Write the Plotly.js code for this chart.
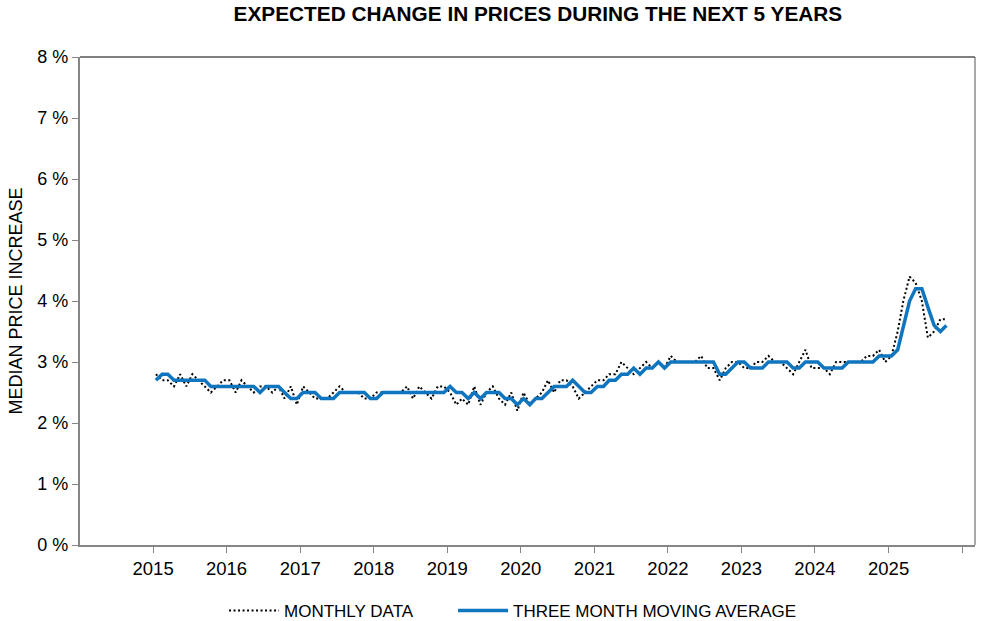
<!DOCTYPE html>
<html>
<head>
<meta charset="utf-8">
<script src="https://cdn.plot.ly/plotly-3.0.1.min.js"></script>
<style>
  html, body { margin: 0; padding: 0; background: #ffffff; }
  #chart { width: 987px; height: 621px; }
</style>
</head>
<body>
<div id="chart"></div>
<script>
// ---- data (monthly, Jan 2015 .. Oct 2025) ----
const startYear = 2015;
const monthlyData = [
  2.8, 2.7, 2.7, 2.6, 2.8, 2.6, 2.8, 2.7, 2.6, 2.5, 2.6, 2.7,   // 2015
  2.7, 2.5, 2.7, 2.6, 2.5, 2.6, 2.6, 2.5, 2.6, 2.4, 2.6, 2.3,   // 2016
  2.6, 2.5, 2.4, 2.4, 2.4, 2.5, 2.6, 2.5, 2.5, 2.5, 2.4, 2.4,   // 2017
  2.5, 2.5, 2.5, 2.5, 2.5, 2.6, 2.4, 2.6, 2.5, 2.4, 2.6, 2.6,   // 2018
  2.5, 2.3, 2.4, 2.3, 2.6, 2.3, 2.5, 2.6, 2.4, 2.3, 2.5, 2.2,   // 2019
  2.5, 2.3, 2.4, 2.5, 2.7, 2.5, 2.7, 2.7, 2.6, 2.4, 2.5, 2.6,   // 2020
  2.7, 2.7, 2.8, 2.8, 3.0, 2.9, 2.8, 2.9, 3.0, 2.9, 3.0, 2.9,   // 2021
  3.1, 3.0, 3.0, 3.0, 3.0, 3.1, 2.9, 2.9, 2.7, 2.9, 3.0, 3.0,   // 2022
  2.9, 2.9, 3.0, 3.0, 3.1, 3.0, 3.0, 2.9, 2.8, 3.0, 3.2, 2.9,   // 2023
  2.9, 2.9, 2.8, 3.0, 3.0, 3.0, 3.0, 3.0, 3.1, 3.1, 3.2, 3.0,   // 2024
  3.1, 3.5, 4.0, 4.4, 4.3, 4.0, 3.4, 3.5, 3.7, 3.7              // 2025
];
const threeMonthAverage = [
  2.7, 2.8, 2.8, 2.7, 2.7, 2.7, 2.7, 2.7, 2.7, 2.6, 2.6, 2.6,   // 2015
  2.6, 2.6, 2.6, 2.6, 2.6, 2.5, 2.6, 2.6, 2.6, 2.5, 2.4, 2.4,   // 2016
  2.5, 2.5, 2.5, 2.4, 2.4, 2.4, 2.5, 2.5, 2.5, 2.5, 2.5, 2.4,   // 2017
  2.4, 2.5, 2.5, 2.5, 2.5, 2.5, 2.5, 2.5, 2.5, 2.5, 2.5, 2.5,   // 2018
  2.6, 2.5, 2.5, 2.4, 2.5, 2.4, 2.5, 2.5, 2.5, 2.4, 2.4, 2.3,   // 2019
  2.4, 2.3, 2.4, 2.4, 2.5, 2.6, 2.6, 2.6, 2.7, 2.6, 2.5, 2.5,   // 2020
  2.6, 2.6, 2.7, 2.7, 2.8, 2.8, 2.9, 2.8, 2.9, 2.9, 3.0, 2.9,   // 2021
  3.0, 3.0, 3.0, 3.0, 3.0, 3.0, 3.0, 3.0, 2.8, 2.8, 2.9, 3.0,   // 2022
  3.0, 2.9, 2.9, 2.9, 3.0, 3.0, 3.0, 3.0, 2.9, 2.9, 3.0, 3.0,   // 2023
  3.0, 2.9, 2.9, 2.9, 2.9, 3.0, 3.0, 3.0, 3.0, 3.0, 3.1, 3.1,   // 2024
  3.1, 3.2, 3.6, 4.0, 4.2, 4.2, 3.9, 3.6, 3.5, 3.6              // 2025
];
const yearTicks = [2015, 2016, 2017, 2018, 2019, 2020, 2021, 2022, 2023, 2024, 2025, 2026];
const yearLabels = ['2015', '2016', '2017', '2018', '2019', '2020', '2021', '2022', '2023', '2024', '2025', ''];
const yTicks = [0, 1, 2, 3, 4, 5, 6, 7, 8];
const seriesNames = ['MONTHLY DATA', 'THREE MONTH MOVING AVERAGE'];
const chartTitle = 'EXPECTED CHANGE IN PRICES DURING THE NEXT 5 YEARS';
const yTitle = 'MEDIAN PRICE INCREASE';

// month dates (mid-month)
function monthDate(i) {
  const y = startYear + Math.floor(i / 12);
  const m = (i % 12) + 1;
  return y + '-' + String(m).padStart(2, '0') + '-15';
}
const xMonthly = monthlyData.map((_, i) => monthDate(i));
const xAvg = threeMonthAverage.map((_, i) => monthDate(i));

const FONT = 'Liberation Sans, Arial, sans-serif';

const traces = [
  {
    x: xMonthly, y: monthlyData, name: seriesNames[0],
    type: 'scatter', mode: 'lines', legend: 'legend',
    line: { color: '#000000', width: 2, dash: '2px,2.5px' },
    hoverinfo: 'skip'
  },
  {
    x: xAvg, y: threeMonthAverage, name: seriesNames[1],
    type: 'scatter', mode: 'lines', legend: 'legend2',
    line: { color: '#0E75BE', width: 3.5 },
    hoverinfo: 'skip'
  }
];

const legendBase = {
  orientation: 'h',
  xref: 'container', yref: 'container',
  xanchor: 'left', y: 0.016, yanchor: 'middle',
  font: { family: FONT, size: 17, color: '#000000' },
  itemwidth: 50,
  bgcolor: 'rgba(0,0,0,0)'
};

const layout = {
  width: 987, height: 621,
  margin: { l: 80, r: 12, t: 57, b: 76 },
  paper_bgcolor: '#ffffff', plot_bgcolor: '#ffffff',
  font: { family: FONT, color: '#000000' },
  title: {
    text: '<b>' + chartTitle + '</b>',
    font: { family: FONT, size: 20.8, color: '#000000' },
    xref: 'container', yref: 'container',
    x: 0.545, xanchor: 'center', y: 0.978, yanchor: 'middle'
  },
  showlegend: true,
  legend: Object.assign({}, legendBase, { x: 0.227 }),
  legend2: Object.assign({}, legendBase, { x: 0.459 }),
  xaxis: {
    type: 'date',
    range: ['2014-01-03', '2026-03-06'],
    tickmode: 'array', tickvals: yearTicks.map(y => y + '-01-01'), ticktext: yearLabels,
    ticks: 'outside', ticklen: 6, tickwidth: 1, tickcolor: '#868686',
    showline: true, linecolor: '#868686', linewidth: 2,
    showgrid: false, zeroline: false,
    tickfont: { family: FONT, size: 18.5, color: '#000000' },
    fixedrange: true
  },
  yaxis: {
    range: [0, 8],
    tickmode: 'array', tickvals: yTicks, ticktext: yTicks.map(v => v + ' %'),
    ticks: 'outside', ticklen: 6, tickwidth: 1, tickcolor: '#868686',
    showline: true, linecolor: '#868686', linewidth: 2,
    showgrid: false, zeroline: false,
    tickfont: { family: FONT, size: 18, color: '#000000' },
    title: { text: yTitle, font: { family: FONT, size: 18, color: '#000000' }, standoff: 10 },
    fixedrange: true
  },
  shapes: [
    { type: 'line', xref: 'paper', yref: 'paper', x0: 0, x1: 1, y0: 1, y1: 1, line: { color: '#000000', width: 1 } },
    { type: 'line', xref: 'paper', yref: 'paper', x0: 1, x1: 1, y0: 0, y1: 1, line: { color: '#555555', width: 1 } }
  ]
};

Plotly.newPlot('chart', traces, layout, { displayModeBar: false, staticPlot: true });
</script>
</body>
</html>
